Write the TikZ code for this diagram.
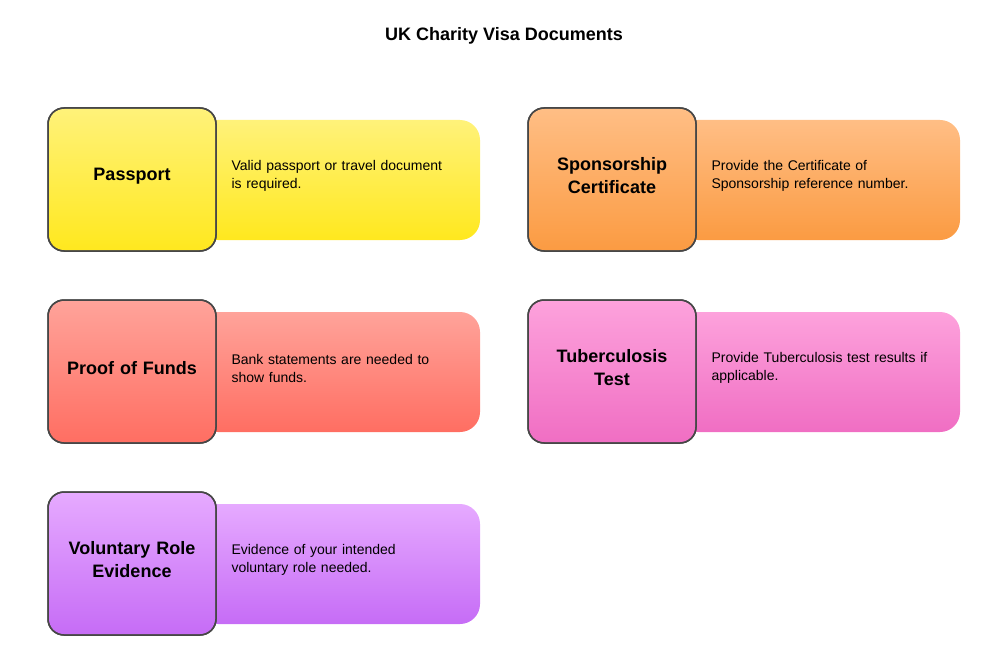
\documentclass[tikz,border=0pt]{standalone}
\usepackage{fontspec}
\setmainfont{Liberation Sans}
\definecolor{yA}{HTML}{FFF27A}\definecolor{yB}{HTML}{FFE81E}
\definecolor{oA}{HTML}{FFBE85}\definecolor{oB}{HTML}{FB9B42}
\definecolor{rA}{HTML}{FFA39A}\definecolor{rB}{HTML}{FF6E62}
\definecolor{pA}{HTML}{FDA2DC}\definecolor{pB}{HTML}{F06EC3}
\definecolor{vA}{HTML}{E6AAFF}\definecolor{vB}{HTML}{C66CF6}
\begin{document}
\begin{tikzpicture}[x=1pt,y=-1pt,
 descbox/.style={rounded corners=20pt},
 keybox/.style={rounded corners=16pt,draw=black!72,line width=1.5pt},
 keytext/.style={font=\bfseries\fontsize{18}{23}\selectfont,align=center,text width=150pt},
 desctext/.style={font=\fontsize{14}{18}\selectfont,align=left,text width=240pt,anchor=west}]
\useasboundingbox (0,0) rectangle (1008,655);
\node[font=\bfseries\fontsize{18}{22}\selectfont] (title) at (504,36) {UK Charity Visa Documents};
\newcommand\card[7]{%
 \shade[descbox,top color=#3,bottom color=#4] (#1+150,#2+12) rectangle (#1+432,#2+132);
 \shade[keybox,top color=#3,bottom color=#4] (#1,#2) rectangle (#1+168,#2+143);
 \draw[keybox] (#1,#2) rectangle (#1+168,#2+143);
 \node[keytext] (#5) at (#1+84,#2+68) {#6};
 \node[desctext] (#5d) at (#1+180,#2+68) {#7};
}
\card{48}{108}{yA}{yB}{pp}{Passport}{Valid passport or travel document\\is required.}
\card{528}{108}{oA}{oB}{sc}{Sponsorship\\Certificate}{Provide the Certificate of\\Sponsorship reference number.}
\card{48}{300}{rA}{rB}{pf}{Proof of Funds}{Bank statements are needed to\\show funds.}
\card{528}{300}{pA}{pB}{tb}{Tuberculosis\\Test}{Provide Tuberculosis test results if\\applicable.}
\card{48}{492}{vA}{vB}{vr}{Voluntary Role\\Evidence}{Evidence of your intended\\voluntary role needed.}
\end{tikzpicture}
\end{document}
